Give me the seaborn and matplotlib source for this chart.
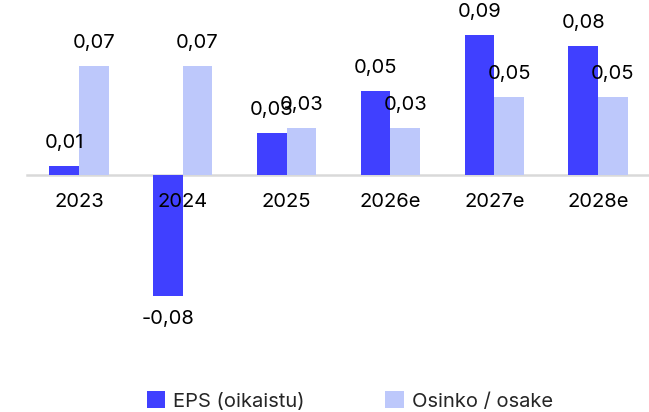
import matplotlib
matplotlib.use("Agg")
import matplotlib.pyplot as plt
import seaborn as sns
import pandas as pd
from matplotlib.patches import Patch

years = ["2023", "2024", "2025", "2026e", "2027e", "2028e"]
eps = [0.006, -0.078, 0.027, 0.054, 0.090, 0.083]
dividend = [0.07, 0.07, 0.03, 0.03, 0.05, 0.05]
series_names = ["EPS (oikaistu)", "Osinko / osake"]
colors = ["#4040FF", "#BDC8FB"]

df = pd.DataFrame({
    "year": years * 2,
    "value": eps + dividend,
    "series": [series_names[0]] * len(years) + [series_names[1]] * len(years),
})

sns.set_theme(style="white")
plt.rcParams["font.family"] = ["Inter", "DejaVu Sans"]
FS = 14.5

W, H = 649, 412
fig = plt.figure(figsize=(W / 100, H / 100), dpi=100)
ax = fig.add_axes([27 / W, (H - 340) / H, 623 / W, 340 / H])

sns.barplot(data=df, x="year", y="value", hue="series", palette=colors,
            saturation=1, width=0.57, ax=ax, legend=False, errorbar=None,
            linewidth=0)

ax.set_ylim(-0.106, 0.1125)
ax.set_xlim(-0.5, 5.5)
for s in ["top", "right", "left"]:
    ax.spines[s].set_visible(False)
ax.spines["bottom"].set_position(("data", 0))
ax.spines["bottom"].set_color("#D9D9D9")
ax.spines["bottom"].set_linewidth(1.8)
ax.spines["bottom"].set_zorder(0.5)
ax.set_yticks([])
ax.tick_params(axis="x", length=0, pad=13, labelsize=FS, colors="black")
ax.xaxis.set_zorder(5)
ax.set_xlabel("")
ax.set_ylabel("")
ax.patch.set_visible(False)

for cont in ax.containers:
    labels = [f"{b.get_height():.2f}".replace(".", ",") for b in cont]
    ax.bar_label(cont, labels=labels, padding=10, fontsize=FS, color="black",
                 clip_on=False)

handles = [Patch(facecolor=c, edgecolor="none") for c in colors]
fig.legend(handles, series_names, loc="center", bbox_to_anchor=(350 / W, 1 - 401 / H),
           ncol=2, frameon=False, fontsize=FS, handlelength=0.9, handleheight=0.9,
           handletextpad=0.4, columnspacing=4.0)

fig.savefig("out.png", dpi=100)
